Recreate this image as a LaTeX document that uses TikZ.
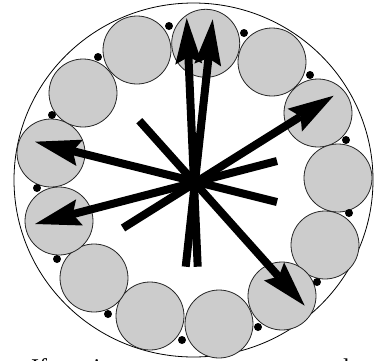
\documentclass[tikz,border=0pt]{standalone}
\usepackage{fontspec}
\setmainfont{Liberation Serif}
\usetikzlibrary{arrows.meta}
\begin{document}
\begin{tikzpicture}[x=1pt,y=-1pt,
  ball/.style={fill=ballgray,draw=black!85,line width=0.8pt},
  grain/.style={fill=black},
  ray/.style={line width=8pt,line cap=butt,
    -{Stealth[length=46pt,width=27pt,inset=7pt,line width=0pt]}},
  cut/.style={font=\fontsize{24}{28}\selectfont,inner sep=0pt}]
\definecolor{ballgray}{HTML}{CCCCCC}
\useasboundingbox (0,0) rectangle (378,360);
% outer boundary
\draw[line width=0.8pt] (193.5,180) ellipse [x radius=179.5, y radius=177];
% gray balls
\foreach \x/\y in {205.7/43.3, 272/62, 318/113, 338/178, 325/245, 282/296,
                   219/324, 150/316, 94/278, 59/221, 51/153, 83/93, 137/50}
  \draw[ball] (\x,\y) circle [radius=34];
% small dots
\foreach \x/\y in {169/26, 244/33, 310/75, 346/140, 349/213, 317/282, 258/327,
                   182/340, 108/314, 57/259, 37/188, 52/115, 98/57}
  \fill[grain] (\x,\y) circle [radius=4];
% arrow end points
\coordinate (v1s) at (197.7,266.7);
\coordinate (v1e) at (186.7,18);
\coordinate (v2s) at (185.7,266.7);
\coordinate (v2e) at (212.7,19.3);
\coordinate (a3s) at (123,228);
\coordinate (a3e) at (333.7,95.7);
\coordinate (a4s) at (139.3,120.7);
\coordinate (a4e) at (304.7,305.7);
\coordinate (a5s) at (277,161);
\coordinate (a5e) at (35,224);
\coordinate (a6s) at (277,202);
\coordinate (a6e) at (35,141.7);
\draw[ray] (v1s) -- (v1e);
\draw[ray] (v2s) -- (v2e);
\draw[ray] (a3s) -- (a3e);
\draw[ray] (a4s) -- (a4e);
\draw[ray] (a5s) -- (a5e);
\draw[ray] (a6s) -- (a6e);
% cut-off text at the bottom (the reference shows only its top)
\node[cut,anchor=base west] (t1) at (31,375) {If};
\node[cut,anchor=base] (t2) at (97,375) {i};
\node[cut,anchor=base west] (t3) at (337,375) {d};
\end{tikzpicture}
\end{document}
